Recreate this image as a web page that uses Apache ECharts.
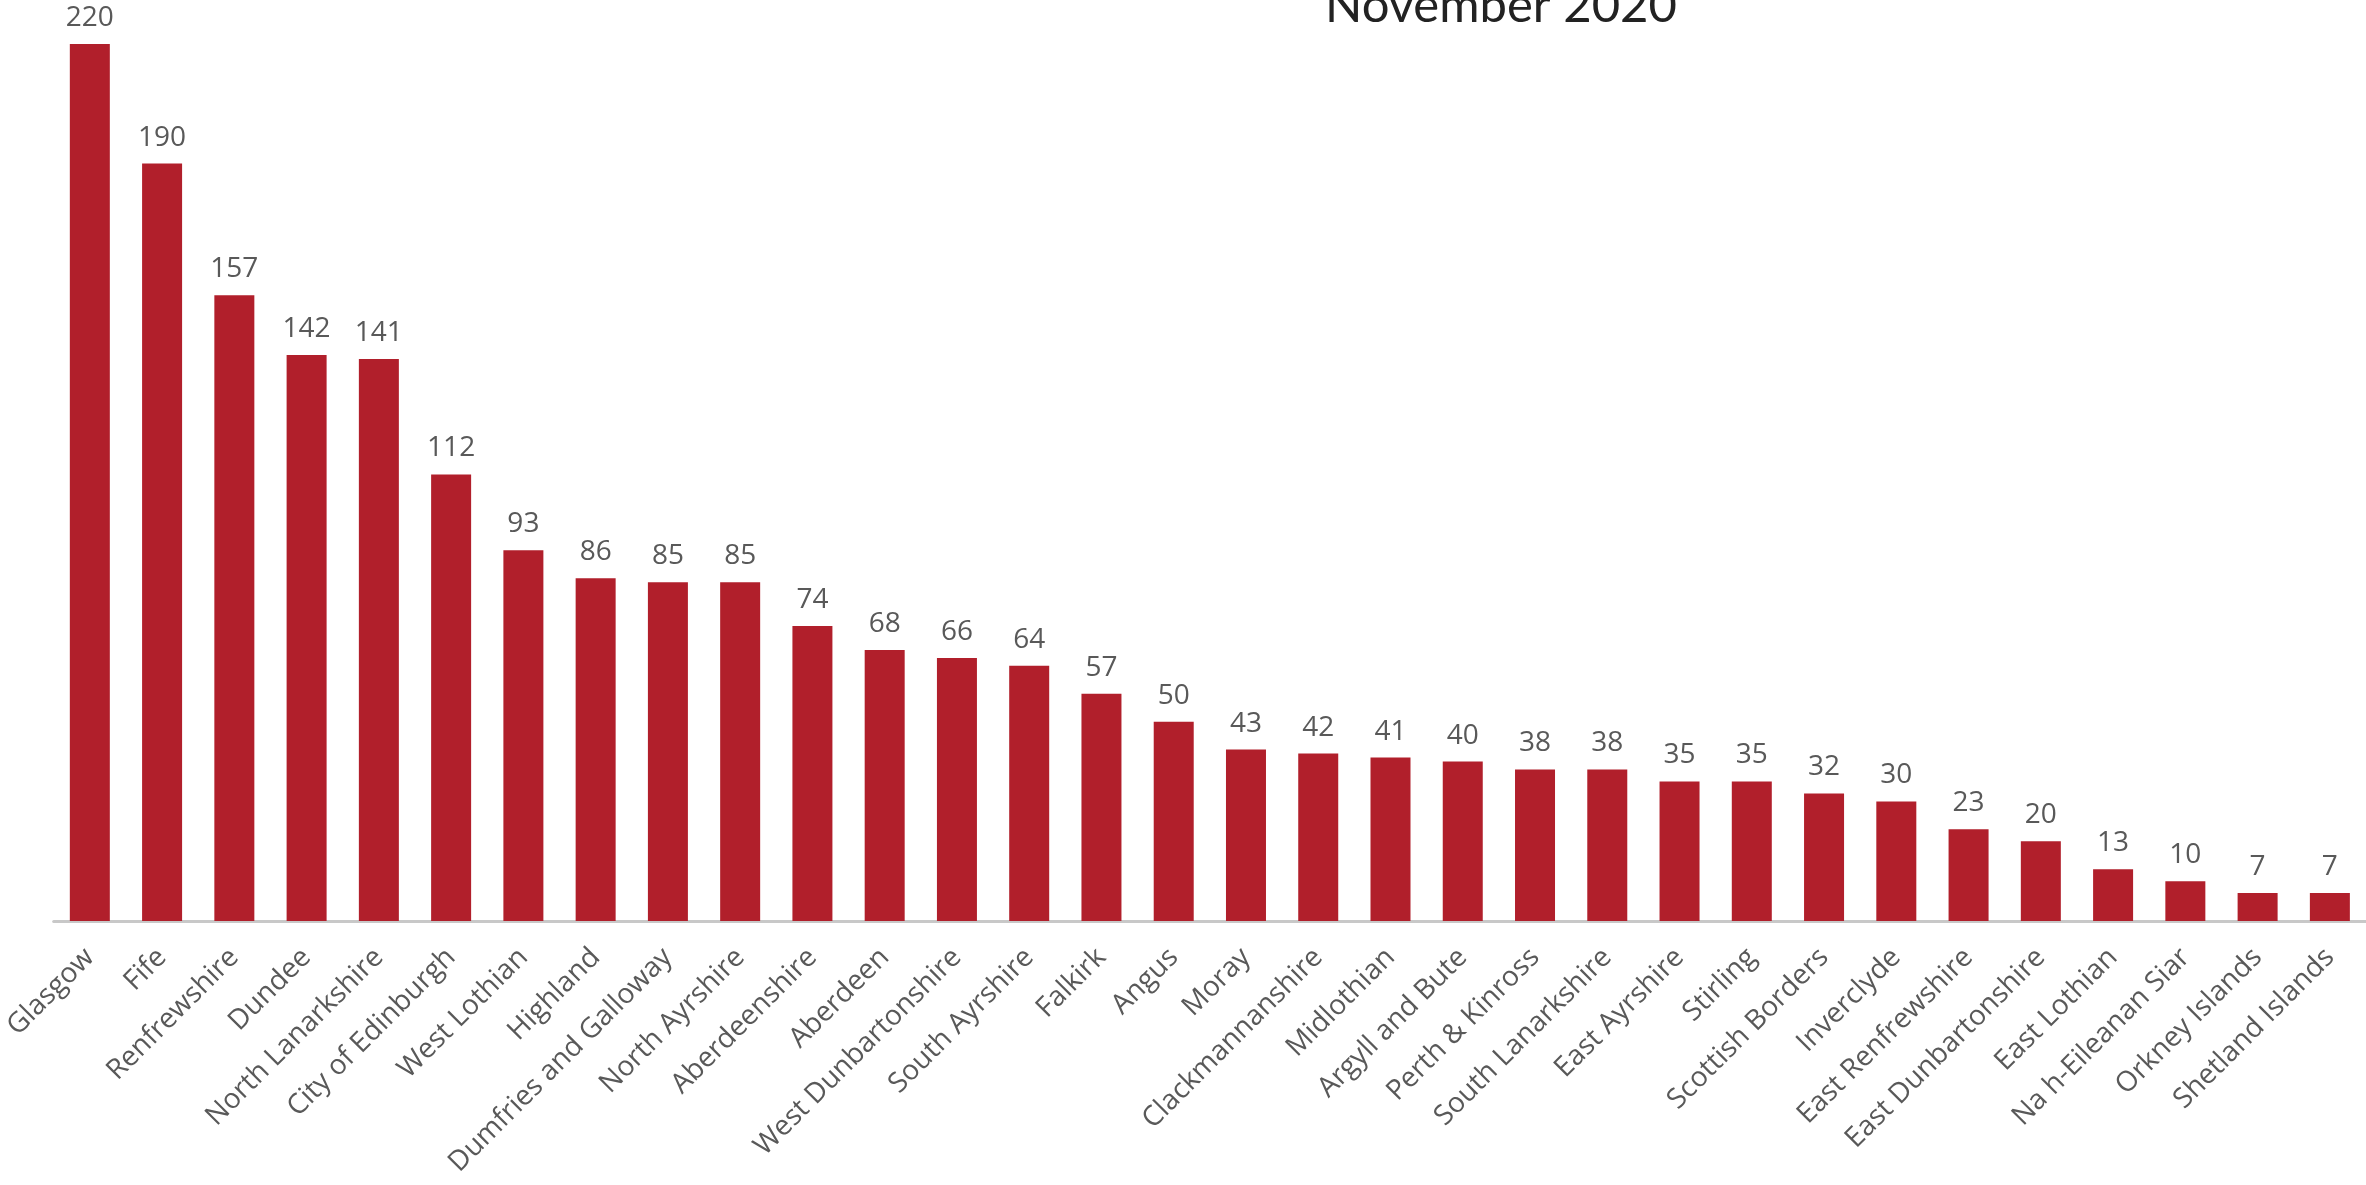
<!DOCTYPE html>
<html style="height: 100%;">
<head>
  <meta charset="utf-8">
  <title>November 2020</title>
  <script type="text/javascript" src="https://cdn.jsdelivr.net/npm/echarts@6/dist/echarts.min.js"></script>
</head>
<body style="height: 100%; margin: 0; background: #fff;">
  <div id="container" style="width: 2366px; height: 1185px;"></div>
  <script type="text/javascript">
    // council areas, sorted by count
    var areas = ['Glasgow', 'Fife', 'Renfrewshire', 'Dundee', 'North Lanarkshire', 'City of Edinburgh',
      'West Lothian', 'Highland', 'Dumfries and Galloway', 'North Ayrshire', 'Aberdeenshire', 'Aberdeen',
      'West Dunbartonshire', 'South Ayrshire', 'Falkirk', 'Angus', 'Moray', 'Clackmannanshire',
      'Midlothian', 'Argyll and Bute', 'Perth & Kinross', 'South Lanarkshire', 'East Ayrshire', 'Stirling',
      'Scottish Borders', 'Inverclyde', 'East Renfrewshire', 'East Dunbartonshire', 'East Lothian',
      'Na h-Eileanan Siar', 'Orkney Islands', 'Shetland Islands'];
    var counts = [220, 190, 157, 142, 141, 112, 93, 86, 85, 85, 74, 68, 66, 64, 57, 50, 43, 42,
      41, 40, 38, 38, 35, 35, 32, 30, 23, 20, 13, 10, 7, 7];
    var titleText = 'November 2020';

    var myChart = echarts.init(document.getElementById('container'));
    var option = {
      animation: false,
      backgroundColor: '#ffffff',
      title: {
        text: titleText,
        left: 1320,
        top: -23,
        textStyle: {
          fontFamily: 'Lato',
          fontSize: 49,
          fontWeight: 'normal',
          color: '#222222'
        }
      },
      grid: {
        left: 52,
        right: 0,
        top: 44,
        bottom: 264,
        containLabel: false
      },
      xAxis: {
        type: 'category',
        data: areas,
        axisLine: { lineStyle: { color: '#c8c8c8', width: 3 } },
        axisTick: { show: false },
        axisLabel: {
          interval: 0,
          rotate: 45,
          margin: 32,
          fontFamily: 'Open Sans',
          fontSize: 28,
          color: '#595959'
        }
      },
      yAxis: {
        type: 'value',
        min: 0,
        max: 220,
        show: false,
        splitLine: { show: false }
      },
      series: [{
        type: 'bar',
        data: counts,
        barWidth: 40,
        itemStyle: { color: '#B11F2B' },
        label: {
          show: true,
          position: 'top',
          distance: 12,
          fontFamily: 'Open Sans',
          fontSize: 28,
          color: '#595959'
        }
      }]
    };
    myChart.setOption(option);
    window.onresize = function () {
      myChart.resize();
    };
  </script>
</body>
</html>
